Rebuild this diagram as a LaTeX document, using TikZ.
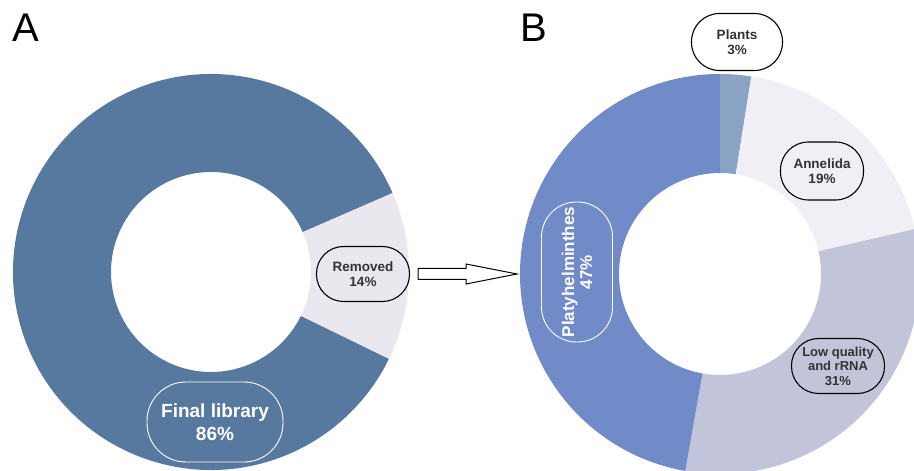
\documentclass[tikz,border=0pt]{standalone}
\usepackage{fontspec}
\setmainfont{Liberation Sans}
\usetikzlibrary{calc}
\definecolor{darkA}{HTML}{57799F}
\definecolor{remA}{HTML}{EAE7EE}
\definecolor{platy}{HTML}{708BC7}
\definecolor{plants}{HTML}{8AA2C3}
\definecolor{anne}{HTML}{EFEFF5}
\definecolor{lowq}{HTML}{C2C5DA}
\definecolor{labtext}{HTML}{333333}
\newcommand{\ringseg}[6]{%
  \fill[#6] ($(#1)+(#4:#2)$) arc[start angle=#4, end angle=#5, radius=#2]
    -- ($(#1)+(#5:#3)$) arc[start angle=#5, end angle=#4, radius=#3] -- cycle;}
\tikzset{
  darklbl/.style={draw=black, line width=1.1pt, align=center, text=labtext,
    font=\bfseries\fontsize{13.5}{15}\selectfont, inner sep=0pt},
  whitelbl/.style={draw=white, line width=0.9pt, align=center, text=white,
    inner sep=0pt},
  panel/.style={font=\fontsize{40}{40}\selectfont, inner sep=0pt, anchor=base west}
}
\begin{document}
\begin{tikzpicture}[x=1pt,y=1pt]
\useasboundingbox (0,0) rectangle (914,471);
\clip (0,0) rectangle (914,471);
\fill[white] (0,0) rectangle (914,471);
% centres
\coordinate (cA) at (211,199);
\coordinate (cB) at (720,197);
% donut A
\ringseg{cA}{198}{100}{23.5}{334}{darkA}
\ringseg{cA}{198}{100}{-26}{23.5}{remA}
% donut B
\ringseg{cB}{200}{101}{81}{90}{plants}
\ringseg{cB}{200}{101}{13}{81}{anne}
\ringseg{cB}{200}{101}{-100}{13}{lowq}
\ringseg{cB}{200}{101}{-270}{-100}{platy}
% panel letters
\node[panel] (pA) at (12,429) {A};
\node[panel] (pB) at (520,429) {B};
% labels
\node[darklbl, minimum width=93pt, minimum height=55pt, rounded corners=27pt] (rem) at (363,197) {Removed\\14\%};
\node[whitelbl, minimum width=136pt, minimum height=80pt, rounded corners=39pt,
  font=\bfseries\fontsize{19}{23}\selectfont] (fin) at (215,49) {Final library\\86\%};
\node[darklbl, fill=white, minimum width=91pt, minimum height=57pt, rounded corners=28pt] (pl) at (737,429) {Plants\\3\%};
\node[darklbl, minimum width=83pt, minimum height=58pt, rounded corners=28pt] (an) at (822,300) {Annelida\\19\%};
\node[darklbl, minimum width=93pt, minimum height=55pt, rounded corners=27pt,
  font=\bfseries\fontsize{13}{14.5}\selectfont] (lq) at (838,105) {Low quality\\and rRNA\\31\%};
\node[whitelbl, rotate=90, minimum width=140pt, minimum height=71pt, rounded corners=35pt,
  font=\bfseries\fontsize{17}{18}\selectfont] (ph) at (577,199) {Platyhelminthes\\47\%};
% block arrow from Removed to donut B
\coordinate (aS) at ($(rem.east)+(8,0)$);
\coordinate (aT) at (517,197);
\draw[black, line width=1pt, fill=white, line join=miter]
  ($(aS)+(0,5.5)$) -- ($(aS)+(48,5.5)$) -- ($(aS)+(48,10)$) -- (aT)
  -- ($(aS)+(48,-10)$) -- ($(aS)+(48,-5.5)$) -- ($(aS)+(0,-5.5)$) -- cycle;
\end{tikzpicture}
\end{document}
